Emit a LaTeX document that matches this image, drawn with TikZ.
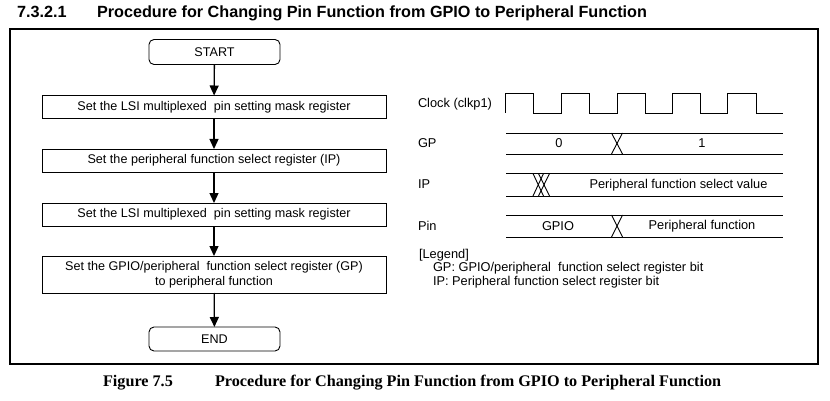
\documentclass[tikz,border=0pt]{standalone}
\usepackage{fontspec}
\setmainfont{Liberation Sans}
\newfontfamily\capfont{Liberation Serif}
\usetikzlibrary{arrows.meta}
\begin{document}
\begin{tikzpicture}[x=1pt,y=-1pt,
  every node/.style={inner sep=0pt,outer sep=0pt},
  box/.style={draw,line width=0.9pt,minimum height=23pt,minimum width=344pt,font=\fontsize{12.6}{14.5}\selectfont,align=center},
  term/.style={draw,line width=0.9pt,rounded corners=5pt,minimum height=25pt,minimum width=131pt,font=\fontsize{12.6}{14.5}\selectfont},
  flow/.style={line width=1.3pt,-{Triangle[length=10pt,width=9pt]}},
  lbl/.style={anchor=west,font=\fontsize{12.8}{14.5}\selectfont},
  txt/.style={font=\fontsize{12.8}{14.5}\selectfont},
  wave/.style={line width=0.9pt}
]
\useasboundingbox (0,0) rectangle (830,401);
% heading
\node[anchor=base west,font=\fontsize{16.2}{18}\selectfont\bfseries] (hnum) at (17,18) {7.3.2.1};
\node[anchor=base west,font=\fontsize{16.2}{18}\selectfont\bfseries] (htitle) at (97,18) {Procedure for Changing Pin Function from GPIO to Peripheral Function};
% frame
\draw[line width=2pt] (9.5,29.5) rectangle (818,364);
% flowchart
\node[term] (start) at (214.5,52) {START};
\node[box] (b1) at (214,107) {Set the LSI multiplexed\ \ pin setting mask register};
\node[box] (b2) at (214,160.5) {Set the peripheral function select register (IP)};
\node[box] (b3) at (214,214.5) {Set the LSI multiplexed\ \ pin setting mask register};
\node[box,minimum height=37pt] (b4) at (214,274.5) {Set the GPIO/peripheral\ \ function select register (GP)\\to peripheral function};
\node[term,minimum height=24pt] (end) at (214.5,339) {END};
\draw[flow] (start) -- (b1);
\draw[flow] (b1) -- (b2);
\draw[flow] (b2) -- (b3);
\draw[flow] (b3) -- (b4);
\draw[flow] (b4) -- (end);
% timing labels
\node[lbl] (lclk) at (418,104) {Clock (clkp1)};
\node[lbl] (lgp) at (418,143) {GP};
\node[lbl] (lip) at (418,184.5) {IP};
\node[lbl] (lpin) at (418,226) {Pin};
% clock
\draw[wave] (505,113) -- (505,93) -- (533,93) -- (533,113) -- (561,113) -- (561,93) -- (589,93) -- (589,113) -- (617,113) -- (617,93) -- (645,93) -- (645,113) -- (672,113) -- (672,93) -- (700,93) -- (700,113) -- (727,113) -- (727,93) -- (756,93) -- (756,113) -- (783,113);
% GP
\draw[wave] (506,133) -- (783,133);
\draw[wave] (506,154) -- (783,154);
\draw[wave] (611.5,133) -- (622.5,154);
\draw[wave] (611.5,154) -- (622.5,133);
\node[txt] (gp0) at (559,143.5) {0};
\node[txt] (gp1) at (702,143.5) {1};
% IP
\draw[wave] (506,173.5) -- (783,173.5);
\draw[wave] (506,196) -- (783,196);
\draw[wave] (533,173.5) -- (543.5,196);
\draw[wave] (533,196) -- (543.5,173.5);
\draw[wave] (538.5,173.5) -- (549.5,196);
\draw[wave] (538.5,196) -- (549.5,173.5);
\node[txt] (ipv) at (678.5,185) {Peripheral function select value};
% Pin
\draw[wave] (506,215) -- (783,215);
\draw[wave] (506,237) -- (783,237);
\draw[wave] (611.5,215) -- (622.5,237);
\draw[wave] (611.5,237) -- (622.5,215);
\node[txt] (pg) at (558,226.5) {GPIO};
\node[txt] (pf) at (702,226.5) {Peripheral function};
% legend
\node[lbl] (leg) at (419,255) {[Legend]};
\node[lbl] (leg1) at (433,268.5) {GP: GPIO/peripheral\ \ function select register bit};
\node[lbl] (leg2) at (433,282) {IP: Peripheral function select register bit};
% caption
\node[anchor=base west,font=\fontsize{16.2}{18}\capfont\bfseries] (cnum) at (103,386) {Figure 7.5};
\node[anchor=base west,font=\fontsize{16.2}{18}\capfont\bfseries] (ctitle) at (215,386) {Procedure for Changing Pin Function from GPIO to Peripheral Function};
\end{tikzpicture}
\end{document}
